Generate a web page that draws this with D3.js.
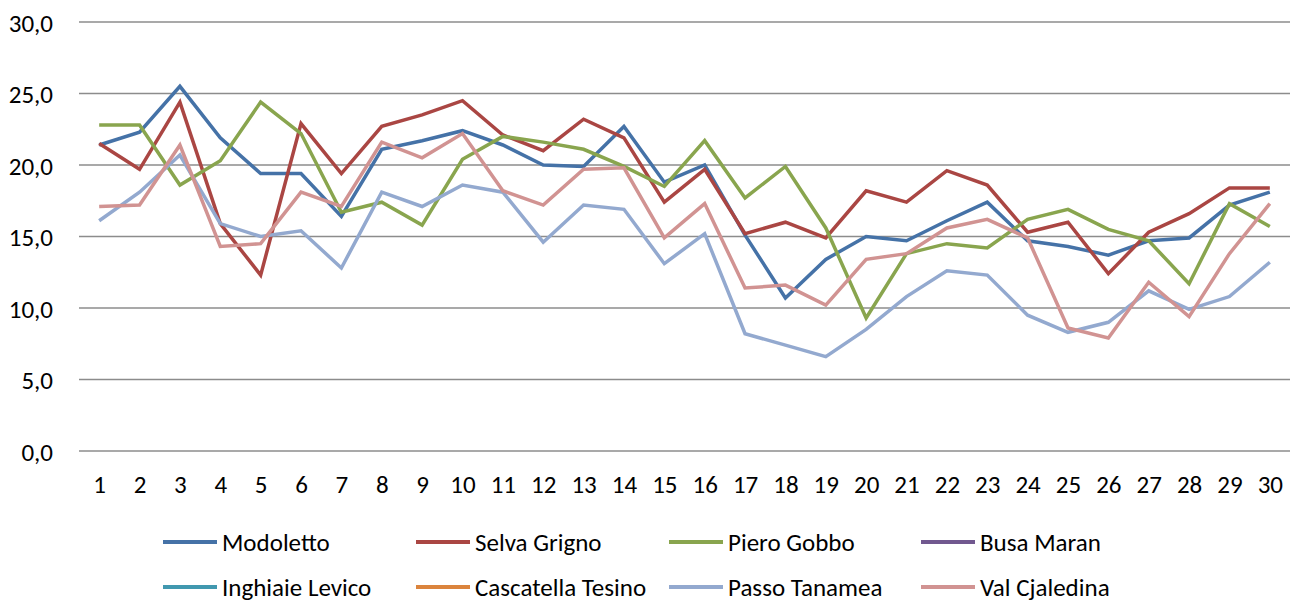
<!DOCTYPE html>
<html>
<head>
<meta charset="utf-8">
<script src="https://cdn.jsdelivr.net/npm/d3@7"></script>
<style>
  html, body { margin: 0; padding: 0; background: #fff; }
  svg text { font-family: Carlito, Calibri, Lato, sans-serif; fill: #000; }
</style>
</head>
<body>
<div id="chart"></div>
<script>
// data
const days = d3.range(1, 31).map(String);
const yTicks = [0, 5, 10, 15, 20, 25, 30];

const modoletto = [21.4, 22.3, 25.5, 21.9, 19.4, 19.4, 16.4, 21.1, 21.7, 22.4,
                   21.4, 20.0, 19.9, 22.7, 18.8, 20.0, 15.1, 10.7, 13.4, 15.0,
                   14.7, 16.1, 17.4, 14.7, 14.3, 13.7, 14.7, 14.9, 17.2, 18.1];
const selvaGrigno = [21.5, 19.7, 24.4, 15.9, 12.3, 22.9, 19.4, 22.7, 23.5, 24.5,
                     22.1, 21.0, 23.2, 21.9, 17.4, 19.7, 15.2, 16.0, 14.9, 18.2,
                     17.4, 19.6, 18.6, 15.3, 16.0, 12.4, 15.3, 16.6, 18.4, 18.4];
const pieroGobbo = [22.8, 22.8, 18.6, 20.3, 24.4, 22.2, 16.7, 17.4, 15.8, 20.4,
                    22.0, 21.6, 21.1, 19.9, 18.5, 21.7, 17.7, 19.9, 15.6, 9.3,
                    13.8, 14.5, 14.2, 16.2, 16.9, 15.5, 14.7, 11.7, 17.3, 15.7];
const busaMaran = [];
const inghiaieLevico = [];
const cascatellaTesino = [];
const passoTanamea = [16.1, 18.1, 20.7, 15.9, 15.0, 15.4, 12.8, 18.1, 17.1, 18.6,
                      18.1, 14.6, 17.2, 16.9, 13.1, 15.2, 8.2, 7.4, 6.6, 8.5,
                      10.8, 12.6, 12.3, 9.5, 8.3, 9.0, 11.2, 9.9, 10.8, 13.2];
const valCjaledina = [17.1, 17.2, 21.4, 14.3, 14.5, 18.1, 17.1, 21.6, 20.5, 22.2,
                      18.2, 17.2, 19.7, 19.8, 14.9, 17.3, 11.4, 11.6, 10.2, 13.4,
                      13.8, 15.6, 16.2, 14.9, 8.6, 7.9, 11.8, 9.4, 13.8, 17.3];

const seriesNames = ["Modoletto", "Selva Grigno", "Piero Gobbo", "Busa Maran",
                     "Inghiaie Levico", "Cascatella Tesino", "Passo Tanamea", "Val Cjaledina"];
const seriesValues = [modoletto, selvaGrigno, pieroGobbo, busaMaran,
                      inghiaieLevico, cascatellaTesino, passoTanamea, valCjaledina];
const colors = ["#4572A7", "#AA4643", "#89A54E", "#71588F",
                "#4198AF", "#DB843D", "#93A9CF", "#D19392"];

const width = 1294, height = 603;
const fontSize = "25px";
const fmt = d => d3.format(".1f")(d).replace(".", ",");

const svg = d3.select("#chart").append("svg")
    .attr("width", width)
    .attr("height", height);

const x = d3.scalePoint()
    .domain(days)
    .range([79, 1290])
    .padding(0.5);

const y = d3.scaleLinear()
    .domain([0, 30])
    .range([451, 22]);

// gridlines
svg.append("g")
    .selectAll("line")
    .data(yTicks)
    .join("line")
    .attr("x1", 79)
    .attr("x2", 1290)
    .attr("y1", d => y(d))
    .attr("y2", d => y(d))
    .attr("stroke", "#8c8c8c")
    .attr("stroke-width", 1.5);

// y labels
const yAxis = svg.append("g")
    .attr("transform", "translate(79,0)")
    .call(d3.axisLeft(y).tickValues(yTicks).tickFormat(fmt).tickSize(0).tickPadding(26));
yAxis.select(".domain").remove();
yAxis.selectAll("text")
    .style("font-size", fontSize)
    .attr("dy", "0.36em");

// x labels
const xAxis = svg.append("g")
    .attr("transform", "translate(0,451)")
    .call(d3.axisBottom(x).tickSize(0).tickPadding(24));
xAxis.select(".domain").remove();
xAxis.selectAll("text")
    .style("font-size", fontSize);

// lines
const line = d3.line()
    .x((d, i) => x(days[i]))
    .y(d => y(d));

svg.append("g")
    .selectAll("path")
    .data(seriesValues)
    .join("path")
    .attr("fill", "none")
    .attr("stroke", (d, i) => colors[i])
    .attr("stroke-width", 3.5)
    .attr("stroke-linejoin", "miter")
    .attr("d", d => d.length ? line(d) : null);

// legend
const legendX = [163, 416, 669, 921];
const legendY = [542, 587];

const item = svg.append("g")
    .selectAll("g")
    .data(seriesNames)
    .join("g")
    .attr("transform", (d, i) => `translate(${legendX[i % 4]},${legendY[Math.floor(i / 4)]})`);

item.append("line")
    .attr("x1", 0)
    .attr("x2", 54)
    .attr("stroke", (d, i) => colors[i])
    .attr("stroke-width", 4);

item.append("text")
    .attr("x", 59)
    .attr("dy", "0.34em")
    .style("font-size", fontSize)
    .text(d => d);
</script>
</body>
</html>
